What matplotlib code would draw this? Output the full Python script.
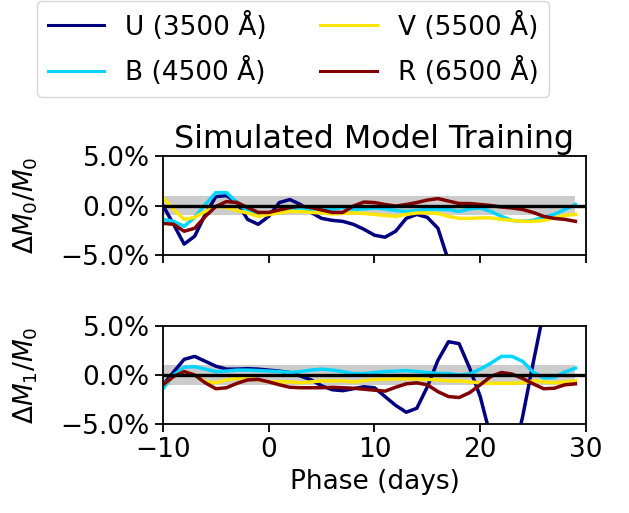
import numpy as np
import matplotlib
matplotlib.use("Agg")
import matplotlib.pyplot as plt
from matplotlib.ticker import FuncFormatter

phase = list(range(-10, 30))
labels = ["U (3500 Å)", "B (4500 Å)", "V (5500 Å)", "R (6500 Å)"]

# Delta M0 / M0 (percent)
m0_U = [0.0, -1.9, -3.9, -3.1, -0.9, 0.9, 1.0, 0.3, -1.4, -1.9,
        -1.1, 0.3, 0.6, 0.1, -0.7, -1.3, -1.5, -1.6, -1.9, -2.4,
        -3.0, -3.2, -2.6, -1.3, -0.9, -1.2, -2.3, -5.6, -9.0, -11.0,
        -12.0, -12.0, -12.0, -12.0, -12.0, -12.0, -12.0, -12.0, -12.0, -12.0]
m0_B = [-1.4, -1.6, -2.1, -1.2, 0.1, 1.3, 1.3, 0.3, -0.6, -0.9,
        -0.7, -0.6, -0.4, -0.4, -0.35, -0.35, -0.4, -0.2, -0.4, -0.35,
        -0.25, -0.35, -0.5, -0.6, -0.5, -0.4, -0.4, -0.4, -0.6, -0.35,
        -0.25, -0.6, -1.1, -1.5, -1.6, -1.5, -1.2, -0.9, -0.4, 0.1]
m0_V = [0.8, -0.4, -1.4, -1.2, -0.6, -0.1, -0.2, -0.5, -0.75, -1.1,
        -0.9, -0.75, -0.6, -0.6, -0.7, -0.75, -0.85, -0.8, -0.75, -0.8,
        -0.9, -1.0, -1.1, -0.9, -0.75, -0.75, -0.8, -1.1, -1.3, -1.3,
        -1.25, -1.25, -1.4, -1.5, -1.6, -1.6, -1.5, -1.25, -1.0, -0.9]
m0_R = [-1.8, -1.9, -2.6, -2.3, -1.1, -0.1, 0.4, 0.3, -0.2, -0.7,
        -0.7, -0.45, -0.2, -0.05, -0.2, -0.45, -0.7, -0.7, -0.05, 0.35,
        0.3, 0.1, -0.05, 0.1, 0.3, 0.55, 0.7, 0.45, 0.2, 0.2,
        0.1, 0.0, -0.15, -0.25, -0.4, -0.7, -1.1, -1.3, -1.4, -1.6]

# Delta M1 / M0 (percent)
m1_U = [-1.0, 0.3, 1.6, 1.9, 1.4, 0.9, 0.6, 0.6, 0.65, 0.6,
        0.5, 0.4, 0.25, -0.1, -0.5, -1.1, -1.5, -1.6, -1.4, -1.2,
        -1.3, -2.2, -3.1, -3.8, -3.4, -1.2, 1.5, 3.4, 3.2, 0.7,
        -2.2, -6.4, -10.0, -9.0, -4.3, 1.2, 6.5, 10.0, 12.0, 12.0]
m1_B = [-1.4, 0.0, 0.8, 0.85, 0.6, 0.35, 0.4, 0.5, 0.5, 0.45,
        0.4, 0.35, 0.25, 0.35, 0.5, 0.6, 0.5, 0.35, 0.15, 0.15,
        0.25, 0.35, 0.4, 0.45, 0.35, 0.25, 0.15, 0.15, 0.0, 0.1,
        0.6, 1.2, 1.9, 1.9, 1.4, 0.3, -0.3, -0.25, 0.3, 0.7]
m1_V = [-1.0, -0.15, 0.35, 0.0, -0.7, -0.8, -0.5, -0.35, -0.35, -0.5,
        -0.7, -0.7, -0.7, -0.8, -0.7, -0.6, -0.6, -0.6, -0.7, -0.6,
        -0.45, -0.45, -0.4, -0.4, -0.4, -0.45, -0.5, -0.6, -0.6, -0.7,
        -0.8, -0.85, -0.85, -0.85, -0.8, -0.6, -0.7, -0.8, -0.7, -0.6]
m1_R = [-1.0, -0.15, 0.35, 0.0, -0.8, -1.4, -1.3, -0.85, -0.5, -0.45,
        -0.7, -1.0, -1.25, -1.3, -1.3, -1.3, -1.25, -1.3, -1.35, -1.45,
        -1.55, -1.65, -1.25, -0.9, -0.8, -1.0, -1.7, -2.2, -2.3, -1.8,
        -1.0, -0.15, 0.25, 0.1, -0.35, -0.9, -1.4, -1.35, -1.0, -0.9]

top_series = [m0_U, m0_B, m0_V, m0_R]
bot_series = [m1_U, m1_B, m1_V, m1_R]
colors = [plt.cm.jet(v) for v in (0.0, 1/3, 2/3, 1.0)]

FS = 19
plt.rcParams['font.family'] = ['DejaVu Sans']
plt.rcParams['font.size'] = FS

fig = plt.figure(figsize=(6.29, 5.13), dpi=100)
ax1 = fig.add_axes([0.2591, 0.5029, 0.6725, 0.193])
ax2 = fig.add_axes([0.2591, 0.1735, 0.6725, 0.191])

pct = FuncFormatter(lambda v, p: f"{v:.1f}%".replace("-", "\u2212"))
x = np.array(phase)
for ax, series, ylab in ((ax1, top_series, r"$\Delta M_0/M_0$"),
                         (ax2, bot_series, r"$\Delta M_1/M_0$")):
    ax.fill_between(x, -1, 1, color=(0.8, 0.8, 0.8), lw=0, zorder=1)
    ax.axhline(0, color='black', lw=2.4, zorder=3)
    for s, c, lab in zip(series, colors, labels):
        ax.plot(x, s, color=c, lw=2.5, label=lab, zorder=2)
    ax.set_xlim(-10, 30)
    ax.set_ylim(-5, 5)
    ax.set_yticks([-5, 0, 5])
    ax.yaxis.set_major_formatter(pct)
    ax.set_xticks([-10, 0, 10, 20, 30])
    ax.tick_params(labelsize=FS, length=6, width=1.3)
    for sp in ax.spines.values():
        sp.set_linewidth(1.3)
    ax.set_ylabel(ylab, fontsize=FS)
    ax.yaxis.set_label_coords(-0.29, 0.5)

ax1.set_xticklabels([])
ax1.set_title("Simulated Model Training", fontsize=22.8)
ax2.set_xlabel("Phase (days)", fontsize=FS)

handles, labs = ax1.get_legend_handles_labels()
leg = fig.legend(handles, labs, ncol=2, loc='upper left',
                 bbox_to_anchor=(37/629, 1 - 1/513), fontsize=FS,
                 handlelength=2.15, columnspacing=2.0, labelspacing=0.62,
                 borderaxespad=0, framealpha=0.8)
for h in leg.get_lines():
    h.set_linewidth(2.2)

fig.savefig("out.png", dpi=100)
